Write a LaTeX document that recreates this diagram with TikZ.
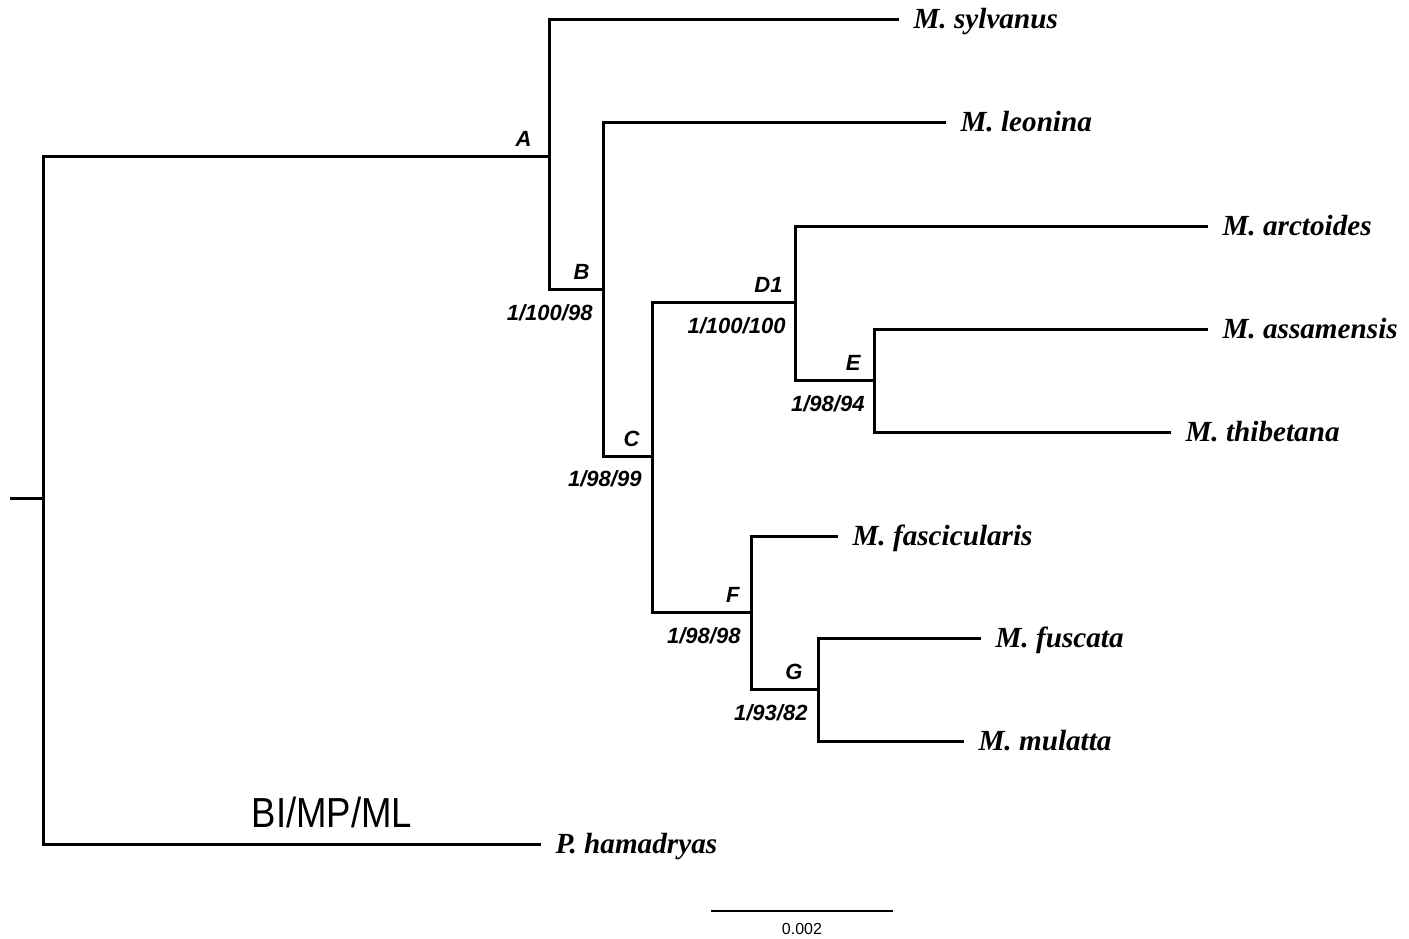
\documentclass[tikz,border=0pt]{standalone}
\usepackage{fontspec}
\setmainfont{Liberation Serif}
\setsansfont{Liberation Sans}
\begin{document}
\begin{tikzpicture}[x=0.5pt, y=-0.5pt, line width=1.5pt,
    taxon/.style={anchor=west, inner xsep=6.5pt, inner ysep=0pt, text height=9.2pt, text depth=0pt,
      font=\fontsize{14.6}{16}\selectfont\bfseries\itshape},
    clade/.style={anchor=south east, inner sep=0pt, font=\sffamily\fontsize{11}{13}\selectfont\bfseries\itshape},
    support/.style={anchor=north east, inner sep=0pt, font=\sffamily\fontsize{11}{13}\selectfont\bfseries\itshape}]
	\useasboundingbox (0,0) rectangle (1409,938);
	% internal nodes
	\coordinate (stem) at (10,498);
	\coordinate (root) at (43,498);
	\coordinate (A) at (549,156);
	\coordinate (B) at (603,289);
	\coordinate (C) at (652,456);
	\coordinate (D1) at (795,302);
	\coordinate (E) at (874,380);
	\coordinate (F) at (751,612);
	\coordinate (G) at (818,689);
	% tips
	\node (sylvanus) [taxon] at (899,19) {M. sylvanus};
	\node (leonina) [taxon] at (946,122) {M. leonina};
	\node (arctoides) [taxon] at (1208,226) {M. arctoides};
	\node (assamensis) [taxon] at (1208,329) {M. assamensis};
	\node (thibetana) [taxon] at (1171,432) {M. thibetana};
	\node (fascicularis) [taxon] at (838,536) {M. fascicularis};
	\node (fuscata) [taxon] at (981,638) {M. fuscata};
	\node (mulatta) [taxon] at (964,741) {M. mulatta};
	\node (hamadryas) [taxon] at (541,844) {P. hamadryas};
	% branches
	\draw (stem) -- (root);
	\draw (root) |- (A);
	\draw (root) |- (hamadryas.west);
	\draw (A) |- (sylvanus.west);
	\draw (A) |- (B);
	\draw (B) |- (leonina.west);
	\draw (B) |- (C);
	\draw (C) |- (D1);
	\draw (C) |- (F);
	\draw (D1) |- (arctoides.west);
	\draw (D1) |- (E);
	\draw (E) |- (assamensis.west);
	\draw (E) |- (thibetana.west);
	\draw (F) |- (fascicularis.west);
	\draw (F) |- (G);
	\draw (G) |- (fuscata.west);
	\draw (G) |- (mulatta.west);
	% clade names and support
	\node (labA) [clade] at ([xshift=-8pt,yshift=4pt]A) {A};
	\node (labB) [clade] at ([xshift=-6pt,yshift=4pt]B) {B};
	\node (labC) [clade] at ([xshift=-5.5pt,yshift=4pt]C) {C};
	\node (labD1) [clade] at ([xshift=-5.5pt,yshift=4pt]D1) {D1};
	\node (labE) [clade] at ([xshift=-6pt,yshift=4pt]E) {E};
	\node (labF) [clade] at ([xshift=-5pt,yshift=4pt]F) {F};
	\node (labG) [clade] at ([xshift=-7pt,yshift=4pt]G) {G};
	\node (supB) [support] at ([xshift=-4.5pt,yshift=-7pt]B) {1/100/98};
	\node (supC) [support] at ([xshift=-4.5pt,yshift=-6.5pt]C) {1/98/99};
	\node (supD1) [support] at ([xshift=-4pt,yshift=-7pt]D1) {1/100/100};
	\node (supE) [support] at ([xshift=-4pt,yshift=-7pt]E) {1/98/94};
	\node (supF) [support] at ([xshift=-4.5pt,yshift=-7pt]F) {1/98/98};
	\node (supG) [support] at ([xshift=-4.5pt,yshift=-7pt]G) {1/93/82};
	\node (method) [font=\sffamily\fontsize{21}{23}\selectfont] at (332,812) {\scalebox{0.87}[1]{BI/MP/ML}};
	% scale bar
	\coordinate (bar1) at (711,911);
	\coordinate (bar2) at (893,911);
	\draw[line width=0.75pt] (bar1) -- (bar2);
	\node (barlab) [font=\sffamily\fontsize{8}{9}\selectfont] at (802,929) {0.002};
\end{tikzpicture}
\end{document}
